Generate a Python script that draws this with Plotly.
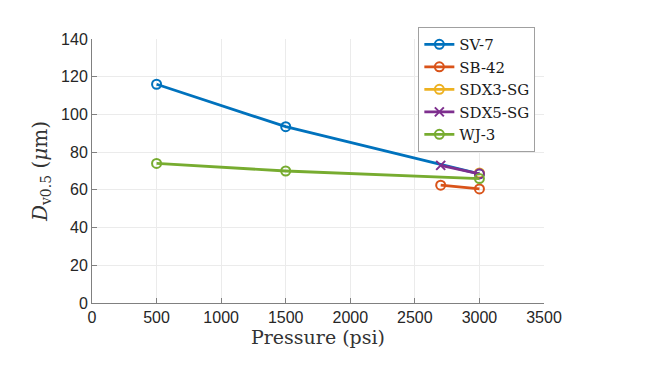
import plotly.graph_objects as go

sv7_x = [500, 1500, 3000]
sv7_y = [116, 93.5, 68.5]
sb42_x = [2700, 3000]
sb42_y = [62.5, 60.5]
sdx3_x = [3000]
sdx3_y = [69]
sdx5_x = [2700, 3000]
sdx5_y = [73, 68.5]
wj3_x = [500, 1500, 3000]
wj3_y = [74, 70, 66]

x_ticks = [0, 500, 1000, 1500, 2000, 2500, 3000, 3500]
y_ticks = [0, 20, 40, 60, 80, 100, 120, 140]

fig = go.Figure()
series = [
    ("SV-7", sv7_x, sv7_y, "#0072BD", None),
    ("SB-42", sb42_x, sb42_y, "#D95319", None),
    ("SDX3-SG", sdx3_x, sdx3_y, "#EDB120", None),
    ("SDX5-SG", sdx5_x, sdx5_y, "#7E2F8E", ["x-thin-open", "circle-open"]),
    ("WJ-3", wj3_x, wj3_y, "#77AC30", None),
]
for name, xs, ys, col, sym in series:
    fig.add_trace(go.Scatter(
        x=xs, y=ys, name=name, mode="lines+markers",
        line=dict(color=col, width=2.8),
        marker=dict(symbol=sym if sym else "circle-open", size=9, color=col,
                    line=dict(width=2, color=col)),
    ))

serif = "DejaVu Serif, Liberation Serif, serif"
fig.update_layout(
    width=660, height=370,
    margin=dict(l=84, r=124, t=31, b=75),
    plot_bgcolor="white", paper_bgcolor="white",
    font=dict(family="Liberation Sans, Arial", size=16, color="#262626"),
    legend=dict(x=0.722, y=1.045, xanchor="left", yanchor="top",
                bgcolor="white", bordercolor="#a0a0a0", borderwidth=1,
                font=dict(family=serif, size=15, color="#1a1a1a"),
                tracegroupgap=0, itemwidth=30),
    showlegend=True,
)
fig.update_xaxes(
    range=[0, 3500], tickvals=x_ticks, showgrid=True, gridcolor="#ebebeb",
    showline=True, linecolor="#808080", linewidth=1, ticks="inside", ticklen=5,
    tickcolor="#808080", zeroline=False,
    title=dict(text="Pressure (psi)", font=dict(family=serif, size=19, color="#333333"), standoff=4),
)
fig.update_yaxes(
    range=[0, 140], tickvals=y_ticks, showgrid=True, gridcolor="#ebebeb",
    showline=True, linecolor="#808080", linewidth=1, ticks="inside", ticklen=5,
    tickcolor="#808080", zeroline=False,
    title=dict(text="<i>D</i><sub>v0.5</sub> (<i>μ</i>m)", font=dict(family=serif, size=20, color="#333333"), standoff=8),
)
fig.write_html("out.html")
